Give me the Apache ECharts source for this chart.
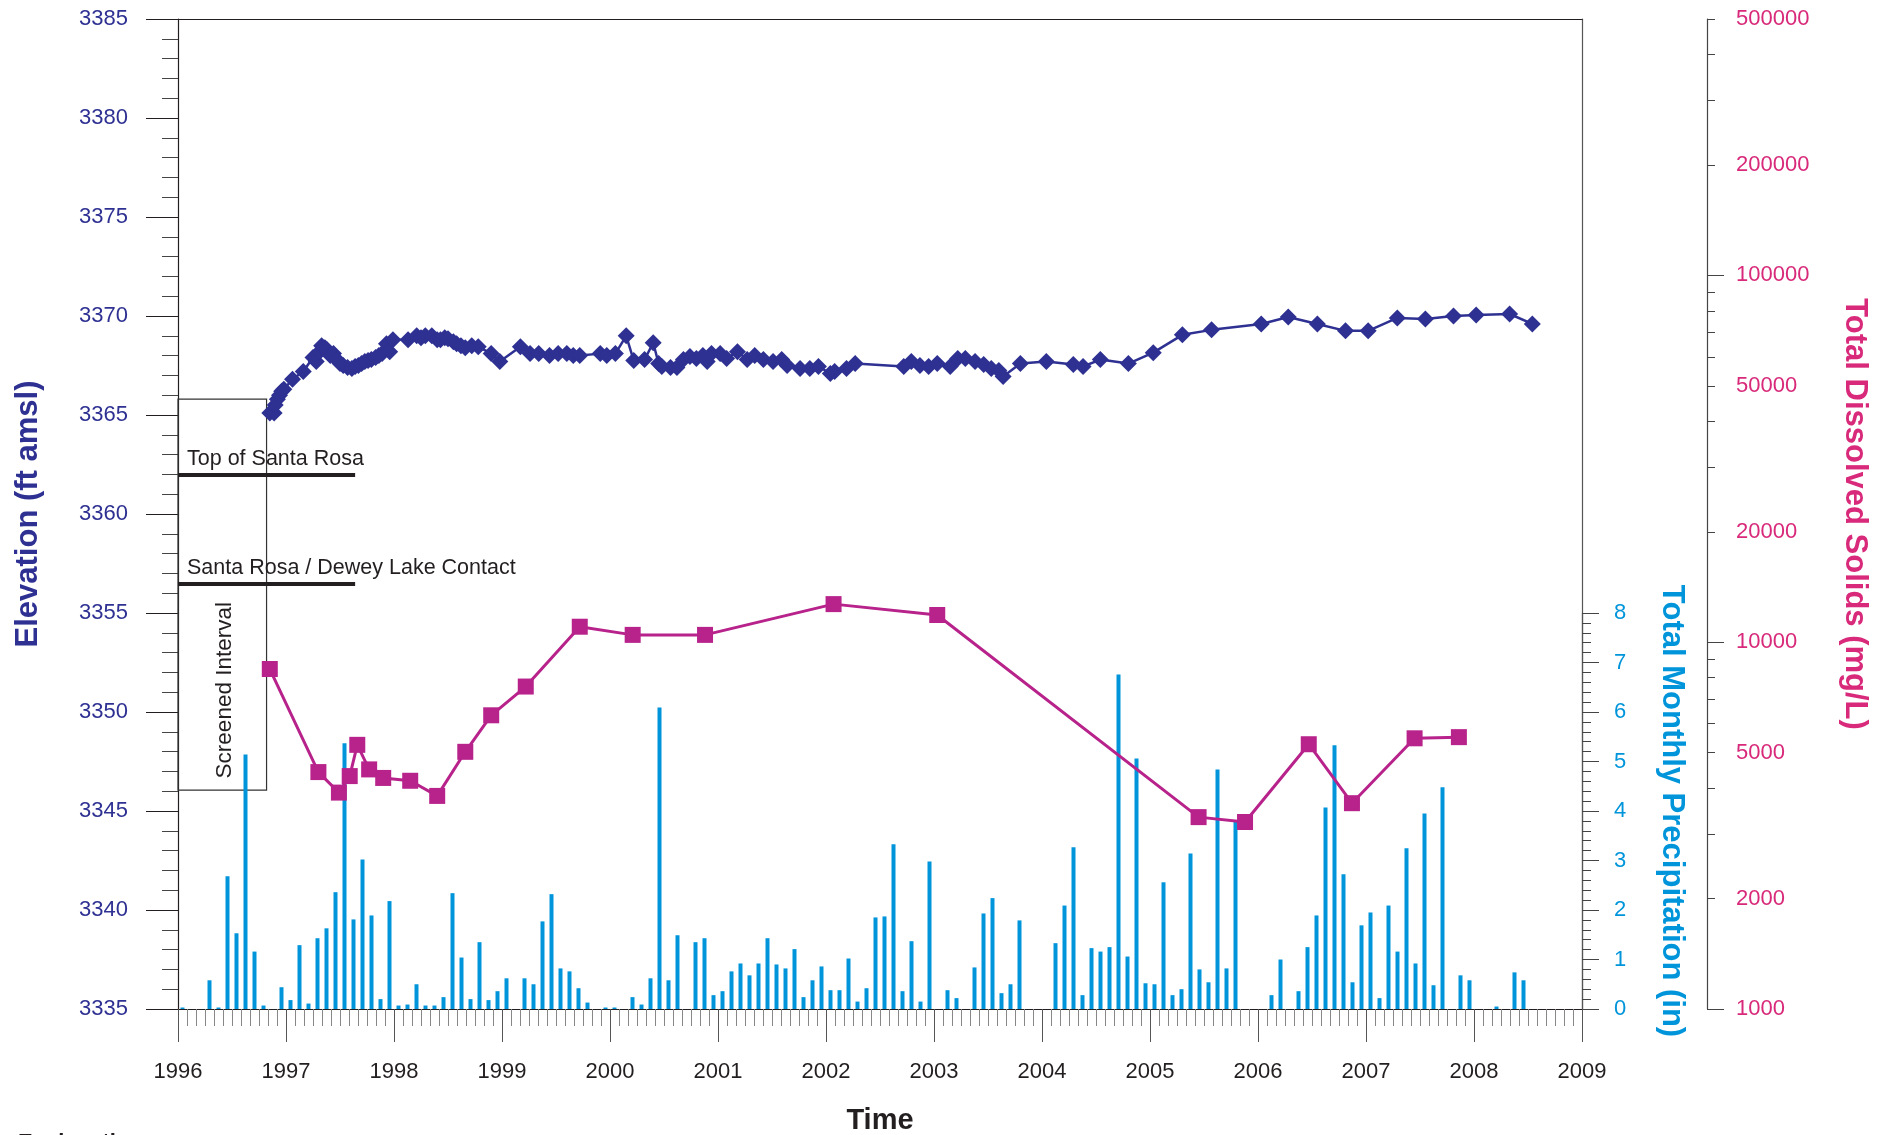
<!DOCTYPE html>
<html>
<head>
<meta charset="utf-8">
<script src="https://cdn.jsdelivr.net/npm/echarts@6.0.0/dist/echarts.min.js"></script>
<style>
html,body{margin:0;padding:0;background:#ffffff;}
#chart{width:1888px;height:1135px;}
</style>
</head>
<body>
<div id="chart"></div>
<script>
// ---------------- DATA ----------------
// Water level elevation (decimal year, ft amsl)
const elevationData = [
  [1996.85,3365.1],[1996.89,3365.1],[1996.90,3365.5],[1996.92,3365.8],[1996.94,3366.0],[1996.96,3366.2],[1996.98,3366.3],
  [1997.06,3366.8],[1997.16,3367.2],[1997.25,3367.9],[1997.28,3367.7],[1997.31,3368.2],[1997.33,3368.5],[1997.36,3368.4],
  [1997.38,3368.3],[1997.41,3368.0],[1997.44,3368.1],[1997.47,3367.8],[1997.50,3367.6],[1997.53,3367.5],[1997.57,3367.4],
  [1997.61,3367.35],[1997.64,3367.45],[1997.67,3367.5],[1997.70,3367.6],[1997.73,3367.7],[1997.76,3367.75],[1997.79,3367.8],
  [1997.83,3367.9],[1997.86,3368.0],[1997.89,3368.1],[1997.93,3368.6],[1997.96,3368.2],[1997.99,3368.8],
  [1998.13,3368.8],[1998.21,3369.0],[1998.25,3368.9],[1998.29,3369.0],[1998.35,3369.0],[1998.40,3368.8],[1998.43,3368.8],
  [1998.47,3368.9],[1998.50,3368.85],[1998.55,3368.7],[1998.58,3368.6],[1998.62,3368.5],[1998.66,3368.4],[1998.72,3368.5],
  [1998.78,3368.45],[1998.90,3368.1],[1998.98,3367.7],
  [1999.17,3368.45],[1999.26,3368.1],[1999.34,3368.1],[1999.44,3368.0],[1999.52,3368.1],[1999.60,3368.1],[1999.66,3368.0],
  [1999.72,3368.0],[1999.91,3368.1],[1999.97,3368.0],
  [2000.05,3368.1],[2000.15,3369.0],[2000.22,3367.75],[2000.32,3367.8],[2000.40,3368.65],[2000.45,3367.6],[2000.48,3367.45],
  [2000.56,3367.4],[2000.62,3367.4],[2000.68,3367.8],[2000.74,3367.95],[2000.80,3367.85],[2000.86,3368.0],[2000.90,3367.7],
  [2000.94,3368.1],
  [2001.02,3368.1],[2001.08,3367.85],[2001.18,3368.2],[2001.27,3367.8],[2001.34,3368.0],[2001.42,3367.8],[2001.51,3367.7],
  [2001.59,3367.8],[2001.64,3367.5],[2001.76,3367.35],[2001.85,3367.35],[2001.93,3367.45],
  [2002.04,3367.1],[2002.08,3367.2],[2002.19,3367.35],[2002.27,3367.6],[2002.72,3367.45],[2002.79,3367.7],[2002.87,3367.5],
  [2002.95,3367.45],
  [2003.03,3367.6],[2003.15,3367.45],[2003.22,3367.85],[2003.29,3367.85],[2003.38,3367.7],[2003.46,3367.55],[2003.53,3367.35],
  [2003.60,3367.25],[2003.64,3366.95],[2003.80,3367.6],
  [2004.04,3367.7],[2004.29,3367.55],[2004.38,3367.45],[2004.54,3367.8],[2004.80,3367.6],
  [2005.03,3368.15],[2005.30,3369.05],[2005.57,3369.3],
  [2006.03,3369.6],[2006.28,3369.95],[2006.55,3369.6],[2006.81,3369.25],
  [2007.02,3369.25],[2007.29,3369.9],[2007.55,3369.85],[2007.81,3370.0],
  [2008.02,3370.05],[2008.33,3370.1],[2008.54,3369.6]
];

// Total dissolved solids (decimal year, mg/L)
const tdsData = [
  [1996.85,8450],[1997.30,4425],[1997.49,3890],[1997.59,4315],[1997.66,5250],[1997.77,4500],[1997.90,4265],
  [1998.15,4190],[1998.40,3810],[1998.66,5025],[1998.90,6320],[1999.22,7570],[1999.72,11020],[2000.21,10470],
  [2000.88,10470],[2002.07,12700],[2003.03,11860],[2005.45,3335],[2005.88,3235],[2006.47,5270],[2006.87,3640],
  [2007.45,5470],[2007.86,5510]
];

// Total monthly precipitation (in), Jan 1996 .. Dec 2008
const precipStartYear = 1996;
const precipMonthly = [
  0.03,0,0,0.58,0.03,2.68,1.53,5.14,1.16,0.07,0,0.44,          // 1996
  0.18,1.29,0.11,1.43,1.63,2.36,5.37,1.81,3.02,1.89,0.20,2.18, // 1997
  0.07,0.09,0.50,0.07,0.07,0.24,2.34,1.04,0.20,1.35,0.18,0.36, // 1998
  0.62,0,0.62,0.50,1.77,2.32,0.82,0.76,0.42,0.13,0,0.03,       // 1999
  0.03,0,0.24,0.09,0.62,6.09,0.58,1.49,0,1.35,1.43,0.28,       // 2000
  0.36,0.76,0.92,0.68,0.92,1.43,0.90,0.82,1.21,0.24,0.58,0.86, // 2001
  0.38,0.38,1.02,0.15,0.42,1.85,1.87,3.33,0.36,1.37,0.15,2.98, // 2002
  0,0.38,0.22,0,0.84,1.93,2.24,0.32,0.50,1.79,0,0,             // 2003
  0,1.33,2.09,3.27,0.28,1.23,1.16,1.25,6.76,1.06,5.06,0.52,    // 2004
  0.50,2.56,0.28,0.40,3.14,0.80,0.54,4.84,0.82,3.81,0,0,       // 2005
  0,0.28,1.00,0,0.36,1.25,1.89,4.07,5.33,2.72,0.54,1.69,       // 2006
  1.95,0.22,2.09,1.16,3.25,0.92,3.95,0.48,4.48,0,0.68,0.58,    // 2007
  0,0,0.05,0,0.74,0.58,0,0,0,0,0,0                             // 2008
];

// Tick values for the TDS (log) axis
const tdsTickValues = [1000,2000,3000,4000,5000,6000,7000,8000,9000,
  10000,20000,30000,40000,50000,60000,70000,80000,90000,
  100000,200000,300000,400000,500000];
const tdsMajorTicks = [1000,10000,100000];
const tdsLabelValues = [1000,2000,5000,10000,20000,50000,100000,200000,500000];

// Reference levels
const topSantaRosa = 3362.0;
const deweyLakeContact = 3356.5;
const screenTop = 3365.8;
const screenBottom = 3346.05;
const screenEndYear = 1996.82;
const refLineEndYear = 1997.64;

// ---------------- STYLE ----------------
const FONT = '"Liberation Sans", Arial, Helvetica, sans-serif';
const C_ELEV = '#2E3192';
const C_TDS_TXT = '#D8297A';
const C_TDS = '#B7228B';
const C_PRE = '#0095DA';
const C_TXT = '#231F20';
const LOGMAX = Math.log10(500000);

const chart = echarts.init(document.getElementById('chart'), null, {renderer:'canvas'});

const option = {
  animation: false,
  backgroundColor: '#ffffff',
  textStyle: {fontFamily: FONT},
  grid: [
    {left:178, right:306, top:19, bottom:126, containLabel:false, outerBoundsMode:'none'},
    {left:178, right:306, top:613, bottom:126, containLabel:false, outerBoundsMode:'none'}
  ],
  xAxis: [
    {
      gridIndex:0, type:'value', min:1996, max:2009, interval:1, position:'bottom',
      axisLine:{show:true, onZero:false, lineStyle:{color:C_TXT, width:1.2}},
      axisTick:{show:true, inside:false, length:33, lineStyle:{color:'#555', width:1}},
      minorTick:{show:true, splitNumber:12, length:17, lineStyle:{color:'#888', width:1}},
      axisLabel:{margin:52, fontSize:22, color:C_TXT, fontFamily:FONT, formatter:(v)=>String(v)},
      splitLine:{show:false}, minorSplitLine:{show:false},
      name:'Time', nameLocation:'middle', nameGap:97,
      nameTextStyle:{fontSize:29, fontWeight:'bold', color:C_TXT, fontFamily:FONT}
    },
    {
      gridIndex:0, type:'value', min:1996, max:2009, position:'top',
      axisLine:{show:true, onZero:false, lineStyle:{color:C_TXT, width:1.2}},
      axisTick:{show:false}, axisLabel:{show:false}, splitLine:{show:false}
    },
    {gridIndex:1, type:'value', min:1996, max:2009, show:false, splitLine:{show:false}}
  ],
  yAxis: [
    {
      gridIndex:0, type:'value', min:3335, max:3385, interval:5, position:'left',
      axisLine:{show:true, onZero:false, lineStyle:{color:C_TXT, width:1.2}},
      axisTick:{show:true, length:32, lineStyle:{color:C_TXT, width:1}},
      minorTick:{show:true, splitNumber:5, length:16, lineStyle:{color:'#444', width:1}},
      axisLabel:{margin:50, fontSize:22, color:C_ELEV, fontFamily:FONT, formatter:(v)=>String(v)},
      splitLine:{show:false}, minorSplitLine:{show:false},
      name:'Elevation (ft amsl)', nameLocation:'middle', nameRotate:90, nameGap:134,
      nameTextStyle:{fontSize:31, fontWeight:'bold', color:C_ELEV, fontFamily:FONT}
    },
    {
      gridIndex:0, type:'value', min:0, max:1, position:'right',
      axisLine:{show:true, onZero:false, lineStyle:{color:'#555', width:1.2}},
      axisTick:{show:false}, axisLabel:{show:false}, splitLine:{show:false}
    },
    {
      gridIndex:0, type:'value', min:3, max:LOGMAX, position:'right', offset:125,
      axisLine:{show:true, onZero:false, lineStyle:{color:'#444', width:1.2}},
      axisTick:{show:true, length:8, customValues:tdsTickValues.map(Math.log10), lineStyle:{color:'#444', width:1}},
      axisLabel:{show:false}, splitLine:{show:false}
    },
    {
      gridIndex:0, type:'value', min:3, max:LOGMAX, position:'right', offset:125,
      axisLine:{show:false},
      axisTick:{show:true, length:17, customValues:tdsMajorTicks.map(Math.log10), lineStyle:{color:'#444', width:1}},
      axisLabel:{show:true, customValues:tdsLabelValues.map(Math.log10), margin:29, fontSize:22, color:C_TDS_TXT, fontFamily:FONT,
        formatter:(v)=>String(Math.round(Math.pow(10, v)))},
      splitLine:{show:false},
      name:'Total Dissolved Solids (mg/L)', nameLocation:'middle', nameRotate:-90, nameGap:132,
      nameTextStyle:{fontSize:31, fontWeight:'bold', color:C_TDS_TXT, fontFamily:FONT}
    },
    {
      gridIndex:1, type:'value', min:0, max:8, interval:1, position:'right',
      axisLine:{show:true, onZero:false, lineStyle:{color:'#555', width:1.2}},
      axisTick:{show:true, length:17, lineStyle:{color:'#444', width:1}},
      minorTick:{show:true, splitNumber:5, length:9, lineStyle:{color:'#444', width:1}},
      axisLabel:{margin:32, fontSize:22, color:C_PRE, fontFamily:FONT},
      splitLine:{show:false}, minorSplitLine:{show:false},
      name:'Total Monthly Precipitation (in)', nameLocation:'middle', nameRotate:-90, nameGap:74,
      nameTextStyle:{fontSize:31, fontWeight:'bold', color:C_PRE, fontFamily:FONT}
    }
  ],
  series: [
    {
      name:'Precipitation', type:'bar', xAxisIndex:2, yAxisIndex:4,
      data: precipMonthly.map((v,i)=>[precipStartYear + (i + 0.5)/12, v]),
      barWidth:4, itemStyle:{color:C_PRE}, z:1, silent:true
    },
    {
      name:'Elevation', type:'line', xAxisIndex:0, yAxisIndex:0,
      data: elevationData,
      symbol:'diamond', symbolSize:17, showAllSymbol:true,
      lineStyle:{color:C_ELEV, width:2.5}, itemStyle:{color:C_ELEV}, z:3,
      markLine:{
        silent:true, symbol:['none','none'],
        lineStyle:{color:C_TXT, width:4, type:'solid'},
        label:{show:true, position:'insideStartTop', formatter:'{b}', color:C_TXT, fontSize:21.5, fontFamily:FONT, distance:[9,4]},
        emphasis:{disabled:true},
        data:[
          [{coord:[1996, topSantaRosa], name:'Top of Santa Rosa'}, {coord:[refLineEndYear, topSantaRosa]}],
          [{coord:[1996, deweyLakeContact], name:'Santa Rosa / Dewey Lake Contact'}, {coord:[refLineEndYear, deweyLakeContact]}]
        ]
      },
      markArea:{
        silent:true,
        itemStyle:{color:'rgba(0,0,0,0)', borderColor:'#333', borderWidth:1.2},
        label:{show:false},
        emphasis:{disabled:true},
        data:[[{coord:[1996, screenTop]}, {coord:[screenEndYear, screenBottom]}]]
      }
    },
    {
      name:'TDS', type:'line', xAxisIndex:0, yAxisIndex:3,
      data: tdsData.map(d=>[d[0], Math.log10(d[1])]),
      symbol:'rect', symbolSize:16, showAllSymbol:true,
      lineStyle:{color:C_TDS, width:3}, itemStyle:{color:C_TDS}, z:4
    }
  ]
};

chart.setOption(option);

const sp = chart.convertToPixel({seriesIndex:1}, [1996.435, 3351.1]);
chart.setOption({
  graphic:[
    {type:'text', x:sp[0], y:sp[1], rotation:Math.PI/2, silent:true,
     style:{text:'Screened Interval', fontSize:22.5, fontFamily:FONT, fill:C_TXT, align:'center', verticalAlign:'middle'}},
    {type:'text', left:18, top:1132, silent:true,
     style:{text:'Explanation', fontSize:22, fontWeight:'bold', fontFamily:FONT, fill:C_TXT}}
  ]
});
</script>
</body>
</html>
